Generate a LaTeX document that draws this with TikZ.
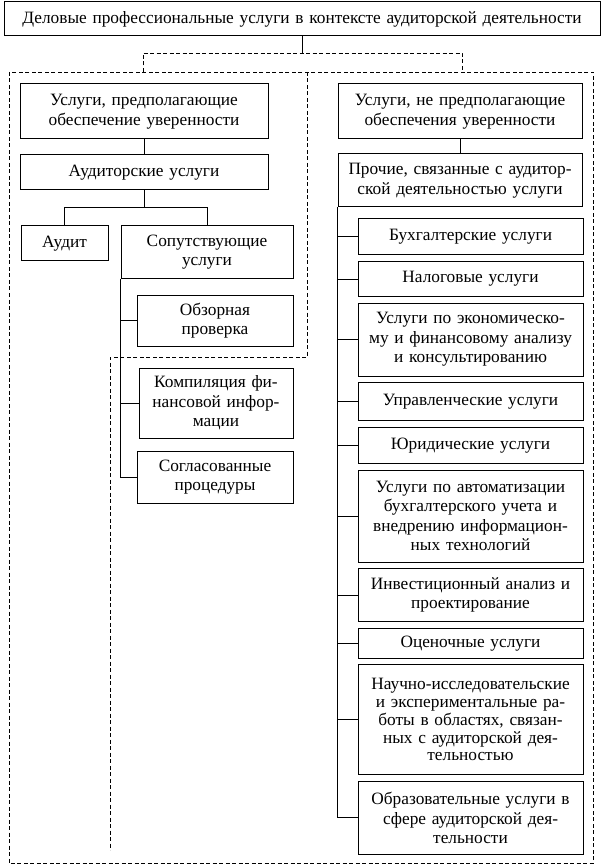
\documentclass[tikz,border=0pt]{standalone}
\usepackage{fontspec}
\setmainfont{Liberation Serif}
\usetikzlibrary{positioning,calc}

\begin{document}
\begin{tikzpicture}[x=1pt, y=-1pt, node distance=5.6pt, font=\fontsize{17.3}{19.5}\selectfont]
	\tikzstyle{box}=[draw=black,line width=1pt,align=center,inner xsep=0pt,inner ysep=2pt,text=black]
	\tikzstyle{link}=[draw=black,line width=1pt]
	\tikzstyle{zone}=[draw=black,line width=0.8pt,dash pattern=on 4pt off 2.5pt]
	\useasboundingbox (0,0) rectangle (604,866);
	\node[box, text width=596pt, minimum height=34pt] (Top) at (302,19) {Деловые профессиональные услуги в контексте аудиторской деятельности};
	\node[box, text width=248pt, minimum height=55pt] (A1) at (144,111.5) {Услуги, предполагающие\\обеспечение уверенности};
	\node[box, text width=248pt, minimum height=35pt] (A2) [below=15pt of A1] {Аудиторские услуги};
	\node[box, text width=87pt, minimum height=35pt] (Audit) at (64.5,243.5) {Аудит};
	\node[box, text width=172pt, minimum height=52pt] (Soput) at (207,252) {Сопутствующие\\услуги};
	\node[box, text width=156pt, minimum height=51pt] (Obz) at (215,320.5) {Обзорная\\проверка};
	\node[box, text width=154pt, minimum height=70pt] (Komp) at (216,403) {Компиляция фи-\\нансовой инфор-\\мации};
	\node[box, text width=156pt, minimum height=52pt] (Sogl) at (215,477) {Согласованные\\процедуры};
	\node[box, text width=244pt, minimum height=55pt] (R1) at (460,111.5) {Услуги, не предполагающие\\обеспечения уверенности};
	\node[box, text width=244pt, minimum height=53pt] (R2) [below=14pt of R1] {Прочие, связанные с аудитор-\\ской деятельностью услуги};
	\node[box, text width=225pt, minimum height=36pt] (Buh) at (470.5,237) {Бухгалтерские услуги};
	\node[box, text width=225pt, minimum height=35pt] (Nal) [below=of Buh] {Налоговые услуги};
	\node[box, text width=225pt, minimum height=73pt] (Ekon) [below=of Nal] {Услуги по экономическо-\\му и финансовому анализу\\и консультированию};
	\node[box, text width=225pt, minimum height=38pt] (Upr) [below=of Ekon] {Управленческие услуги};
	\node[box, text width=225pt, minimum height=36pt] (Yur) [below=of Upr] {Юридические услуги};
	\node[box, text width=225pt, minimum height=92pt] (Avt) [below=of Yur] {Услуги по автоматизации\\бухгалтерского учета и\\внедрению информацион-\\ных технологий};
	\node[box, text width=225pt, minimum height=53pt] (Inv) [below=of Avt] {Инвестиционный анализ и\\проектирование};
	\node[box, text width=225pt, minimum height=30pt] (Ots) [below=of Inv] {Оценочные услуги};
	\node[box, text width=225pt, minimum height=110pt, font=\fontsize{17.3}{17.8}\selectfont] (Nauch) [below=of Ots] {Научно-исследовательские\\и экспериментальные ра-\\боты в областях, связан-\\ных с аудиторской дея-\\тельностью};
	\node[box, text width=225pt, minimum height=73pt] (Obr) [below=of Nauch] {Образовательные услуги в\\сфере аудиторской дея-\\тельности};
	\coordinate (ForkL) at (143,53);
	\coordinate (ForkR) at (462,53);
	\coordinate (FrameNW) at (9,72);
	\coordinate (FrameSE) at (593,863);
	\coordinate (Split) at ($(A2.south)+(0,17)$);
	\draw[link] (Top.south) -- (Top.south |- ForkL);
	\draw[zone] (ForkL |- FrameNW) -- (ForkL) -- (ForkR) -- (ForkR |- FrameNW);
	\draw[zone] (FrameNW) rectangle (FrameSE);
	\draw[zone] (307,72) -- (307,357) -- (110,357) -- (110,850);
	\draw[link] (A1) -- (A2);
	\draw[link] (A2.south) -- (Split);
	\draw[link] (Audit.north) |- (Split) -| (Soput.north);
	\draw[link] (Soput.south west) |- (Sogl.west);
	\foreach \n in {Obz,Komp}
		\draw[link] (Soput.south west |- \n.west) -- (\n.west);
	\draw[link] (R1) -- (R2);
	\draw[link] (R2.south west) |- (Obr.west);
	\foreach \n in {Buh,Nal,Ekon,Upr,Yur,Avt,Inv,Ots,Nauch}
		\draw[link] (R2.south west |- \n.west) -- (\n.west);
\end{tikzpicture}
\end{document}
